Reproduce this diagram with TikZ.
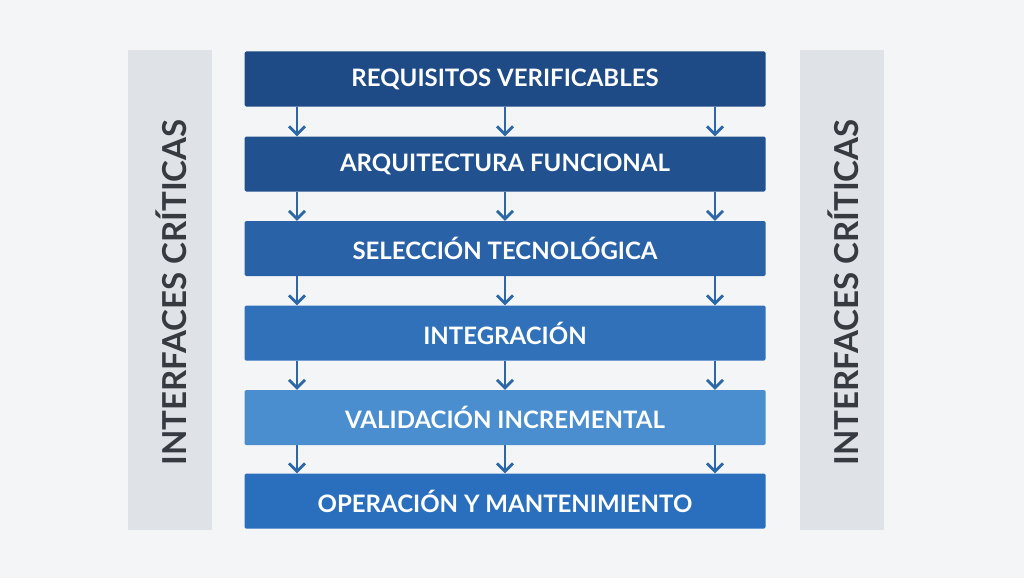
\documentclass[tikz,border=0pt]{standalone}
\usepackage{fontspec}
\setmainfont{Lato}
\usetikzlibrary{arrows.meta}
\definecolor{bg}{HTML}{F4F5F6}
\definecolor{side}{HTML}{DFE2E6}
\definecolor{sidetext}{HTML}{363B42}
\definecolor{cA}{HTML}{1E4A86}
\definecolor{cB}{HTML}{21528F}
\definecolor{cC}{HTML}{2A62A8}
\definecolor{cD}{HTML}{3171B9}
\definecolor{cE}{HTML}{4A8ED0}
\definecolor{cF}{HTML}{2A6FBE}
\definecolor{arr}{HTML}{2C68A8}
\tikzset{
  stage/.style={draw=none, minimum width=521pt, minimum height=55pt, inner sep=0pt,
    text=white, font=\fontsize{24}{28}\selectfont\bfseries, rounded corners=1.5pt},
  sidebar/.style={fill=side, minimum width=84pt, minimum height=480pt, inner sep=0pt},
  sidelabel/.style={text=sidetext, font=\fontsize{33}{38}\selectfont\bfseries, rotate=90},
  flow/.style={draw=arr, line width=2.4pt, -{Straight Barb[length=8pt,width=16pt,line width=2.8pt]}}
}
\begin{document}
\begin{tikzpicture}[x=1pt,y=-1pt]
\fill[bg] (0,0) rectangle (1024,578);
\useasboundingbox (0,0) rectangle (1024,578);
\node[sidebar] (sl) at (170,290) {};
\node[sidebar] (sr) at (842,290) {};
\node[sidelabel] (tl) at (171,292.5) {INTERFACES CRÍTICAS};
\node[sidelabel] (tr) at (843,292.5) {INTERFACES CRÍTICAS};
\node[stage, fill=cA] (s1) at (505,79) {REQUISITOS VERIFICABLES};
\node[stage, fill=cB] (s2) at (505,164) {ARQUITECTURA FUNCIONAL};
\node[stage, fill=cC] (s3) at (505,248.5) {SELECCIÓN TECNOLÓGICA};
\node[stage, fill=cD] (s4) at (505,333) {INTEGRACIÓN};
\node[stage, fill=cE] (s5) at (505,417.5) {VALIDACIÓN INCREMENTAL};
\node[stage, fill=cF] (s6) at (505,501) {OPERACIÓN Y MANTENIMIENTO};
\foreach \a/\b in {s1/s2,s2/s3,s3/s4,s4/s5,s5/s6}{
  \draw[flow] ([xshift=-208pt]\a.south) -- ([xshift=-208pt]\b.north);
  \draw[flow] (\a.south) -- (\b.north);
  \draw[flow] ([xshift=210pt]\a.south) -- ([xshift=210pt]\b.north);
}
\end{tikzpicture}
\end{document}
